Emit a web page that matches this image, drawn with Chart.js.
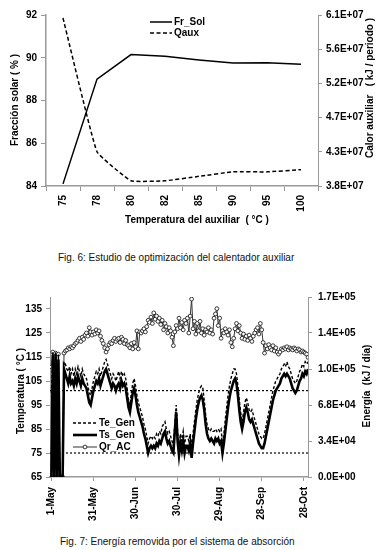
<!DOCTYPE html>
<html>
<head>
<meta charset="utf-8">
<script src="https://cdn.jsdelivr.net/npm/chart.js@4/dist/chart.umd.min.js"></script>
<style>
  body { margin: 0; background: #fff; width: 380px; height: 550px; position: relative; overflow: hidden; }
  .box { position: absolute; left: 0; width: 380px; }
  .cap { position: absolute; font: 10px Arial, "Liberation Sans", sans-serif; color: #111; line-height: 12px; white-space: nowrap; }
</style>
</head>
<body>
<div class="box" style="top:0;height:240px"><canvas id="fig6"></canvas></div>
<div class="cap" style="left:58px;top:252px">Fig. 6: Estudio de optimización del calentador auxiliar</div>
<div class="box" style="top:280px;height:245px"><canvas id="fig7"></canvas></div>
<div class="cap" style="left:60px;top:536px">Fig. 7: Energía removida por el sistema de absorción</div>
<script>
// --- Fig. 6 data ---
const auxTemps = ["75", "78", "80", "82", "85", "90", "95", "100"];
const frSol = [84.1, 89.0, 90.15, 90.07, 89.9, 89.75, 89.77, 89.7];
const qaux = [6.06e7, 4.26e7, 3.87e7, 3.87e7, 3.93e7, 3.99e7, 3.99e7, 4.02e7];
const fracTicks = [84, 86, 88, 90, 92];
const qauxTicks = [3.8e7, 4.26e7, 4.72e7, 5.18e7, 5.64e7, 6.1e7];
const qauxTickLabels = ["3.8E+07", "4.3E+07", "4.7E+07", "5.2E+07", "5.6E+07", "6.1E+07"];

// --- Fig. 7 data (one value per day, 1-May .. 31-Oct) ---
const teGen = [100,117,65,117,65,116,65,65,65,113,
112,110,109,111,108,110,107,110,108,111,
109,107,110,108,107,106,103,100,99,102,
105,107,109,108,110,107,109,111,113,114,
112,110,108,106,108,107,105,107,109,106,
109,107,108,106,102,97,95,100,104,106,
103,99,96,94,92,90,87,85,82,79,
81,82,81,82,81,83,82,84,83,86,
87,88,85,83,84,82,80,78,87,95,
84,78,83,80,84,79,82,82,80,83,
77,83,88,93,97,100,102,103,102,97,
91,87,85,84,85,84,84,85,84,85,
84,85,79,83,89,94,99,103,106,108,
110,110,108,103,97,92,88,92,96,98,
96,93,92,93,91,89,87,85,83,82,
81,81,83,86,89,92,95,98,101,103,
105,106,107,108,110,111,112,111,113,111,
110,108,106,105,104,105,107,109,110,112,
111,113,112,113];
const tsGen = [65,116,65,116,65,114,65,65,65,110,
108,106,104,107,104,105,103,106,104,107,
105,103,106,104,103,102,99,96,95,98,
101,103,105,104,106,103,105,107,109,110,
108,106,104,102,104,103,101,103,104,102,
105,103,104,102,98,94,92,96,100,102,
99,95,92,90,88,86,83,81,78,75,
77,78,77,78,77,79,78,80,79,81,
83,84,81,79,80,78,76,75,84,92,
80,74,79,76,80,75,78,78,76,79,
73,79,84,89,93,96,98,99,97,93,
87,83,81,80,81,80,79,81,80,81,
79,80,75,79,84,89,94,98,101,103,
105,106,104,99,93,88,85,88,92,94,
92,89,88,89,87,85,83,81,79,78,
77,77,79,82,85,88,91,94,97,99,
101,102,103,104,106,107,108,107,108,107,
106,104,102,101,100,101,103,105,106,108,
107,109,108,110];
const qrAC = [104000,118000,0,117000,0,116000,0,0,0,117000,
119000,120000,122000,121000,123000,122000,124000,126000,127000,129000,
131000,128000,132000,130000,134000,136000,133000,141000,137000,134000,
137000,135000,139000,136000,138000,133000,129000,126000,122000,118000,
121000,125000,127000,126000,129000,131000,128000,130000,131000,127000,
132000,130000,126000,129000,125000,124000,122000,126000,121000,127000,
123000,138000,121000,137000,136000,138000,140000,137000,142000,148000,
146000,151000,145000,155000,149000,152000,147000,150000,144000,148000,
139000,145000,142000,136000,141000,138000,132000,124000,137000,143000,
140000,150000,141000,146000,139000,148000,145000,150000,136000,152000,
168000,140000,147000,135000,145000,138000,147000,136000,140000,134000,
139000,137000,141000,136000,139000,135000,150000,154000,159000,143000,
150000,131000,138000,136000,140000,137000,134000,139000,127000,123000,
131000,140000,145000,138000,143000,136000,131000,135000,130000,133000,
129000,134000,131000,128000,133000,136000,139000,141000,135000,145000,
139000,127000,117000,124000,121000,125000,122000,120000,124000,119000,
122000,118000,116000,118000,121000,120000,122000,121000,123000,120000,
122000,121000,120000,122000,121000,119000,121000,120000,118000,119000,
118000,117000,116000,113000];
const refLines = [101, 75];
const tempTicks = [65, 75, 85, 95, 105, 115, 125, 135];
const energyTicks = [0, 34000, 68000, 102000, 136000, 170000];
const energyTickLabels = ["0.0E+00", "3.4E+04", "6.8E+04", "1.0E+05", "1.4E+05", "1.7E+05"];
const dateTicks = [0, 30, 60, 90, 120, 150, 180];
const dateLabels = ["1-May", "31-May", "30-Jun", "30-Jul", "29-Aug", "28-Sep", "28-Oct"];

const FONT = 'Arial, "Liberation Sans", sans-serif';
Chart.defaults.font.family = FONT;
Chart.defaults.font.size = 10;
Chart.defaults.font.weight = "bold";
Chart.defaults.color = "#000";
const AXIS = "#999";

// titles and in-plot legend drawn on the canvas
const overlay = {
  id: "overlay",
  afterDraw(chart, args, opts) {
    const ctx = chart.ctx;
    ctx.save();
    ctx.font = "bold 10px " + FONT;
    ctx.fillStyle = "#000";
    ctx.textBaseline = "middle";
    (opts.titles || []).forEach(t => {
      ctx.save();
      ctx.translate(t.x, t.y);
      ctx.rotate(t.rot || 0);
      ctx.textAlign = "center";
      ctx.fillText(t.text, 0, 0);
      ctx.restore();
    });
    const lg = opts.legend;
    if (lg) {
      ctx.textAlign = "left";
      chart.data.datasets.filter(d => d.label).forEach((ds, i) => {
        const y = lg.y + i * lg.row;
        ctx.beginPath();
        ctx.setLineDash(ds.borderDash || []);
        ctx.lineWidth = ds.borderWidth;
        ctx.strokeStyle = ds.borderColor;
        ctx.moveTo(lg.x, y);
        ctx.lineTo(lg.x + lg.len, y);
        ctx.stroke();
        ctx.setLineDash([]);
        if (ds.pointRadius) {
          ctx.beginPath();
          ctx.arc(lg.x + lg.len / 2, y, ds.pointRadius, 0, Math.PI * 2);
          ctx.fillStyle = ds.pointBackgroundColor;
          ctx.fill();
          ctx.lineWidth = ds.pointBorderWidth;
          ctx.strokeStyle = ds.pointBorderColor;
          ctx.stroke();
          ctx.fillStyle = "#000";
        }
        ctx.fillText(ds.label, lg.x + lg.len + 2, y + 0.5);
      });
    }
    ctx.restore();
  }
};

const fixed = (ticks) => s => { s.ticks = ticks.map(v => ({ value: v })); };

new Chart(document.getElementById("fig6"), {
  type: "line",
  data: {
    labels: auxTemps,
    datasets: [
      { label: "Fr_Sol", data: frSol, yAxisID: "y", borderColor: "#000", borderWidth: 1.5, pointRadius: 0, tension: 0 },
      { label: "Qaux", data: qaux, yAxisID: "y1", borderColor: "#000", borderWidth: 1.5, borderDash: [4, 2.5], pointRadius: 0, tension: 0.1 }
    ]
  },
  options: {
    responsive: true,
    maintainAspectRatio: false,
    animation: false,
    layout: { padding: { top: 15, left: 0, right: 0, bottom: 0 } },
    plugins: {
      legend: { display: false },
      tooltip: { enabled: false },
      overlay: {
        titles: [
          { text: "Fracción solar ( % )", x: 15, y: 100, rot: -Math.PI / 2 },
          { text: "Calor auxiliar   ( kJ / periodo )", x: 370, y: 88, rot: -Math.PI / 2 },
          { text: "Temperatura del auxiliar  ( °C )", x: 197, y: 220 }
        ],
        legend: { x: 150, y: 22, row: 11, len: 22 }
      }
    },
    scales: {
      x: {
        offset: true,
        grid: { display: true, offset: true, drawOnChartArea: false, tickLength: 5, color: AXIS },
        border: { color: AXIS, width: 1.5 },
        ticks: { minRotation: 90, maxRotation: 90, autoSkip: false, padding: 4 },
        afterFit: s => { s.height = 54; }
      },
      y: {
        position: "left", min: 84, max: 92,
        afterBuildTicks: fixed(fracTicks),
        grid: { drawOnChartArea: false, tickLength: 5, color: AXIS },
        border: { color: AXIS, width: 1.5 },
        ticks: { padding: 4 },
        afterFit: s => { s.width = 46; }
      },
      y1: {
        position: "right", min: 3.8e7, max: 6.1e7,
        afterBuildTicks: fixed(qauxTicks),
        grid: { drawOnChartArea: false, tickLength: 4, color: AXIS },
        border: { color: AXIS, width: 1, dash: [2, 2] },
        ticks: { padding: 4, callback: (v, i) => qauxTickLabels[i] },
        afterFit: s => { s.width = 62; }
      }
    }
  },
  plugins: [overlay]
});

const xMin = -1, xMax = 183;
const pts = arr => arr.map((v, i) => ({ x: i, y: v }));

new Chart(document.getElementById("fig7"), {
  type: "line",
  data: {
    datasets: [
      { label: "Te_Gen", data: pts(teGen), yAxisID: "yT", borderColor: "#000", borderWidth: 1.4, borderDash: [3, 2], pointRadius: 0 },
      { label: "Ts_Gen", data: pts(tsGen), yAxisID: "yT", borderColor: "#000", borderWidth: 2.6, pointRadius: 0 },
      { label: "Qr_AC", data: pts(qrAC), yAxisID: "yE", borderColor: "#333", borderWidth: 1, pointRadius: 1.9,
        pointBackgroundColor: "#fff", pointBorderColor: "#222", pointBorderWidth: 0.9 },
      ...refLines.map(v => ({ data: [{ x: xMin, y: v }, { x: xMax, y: v }], yAxisID: "yT", borderColor: "#000",
        borderWidth: 1.2, borderDash: [2, 2], pointRadius: 0 }))
    ]
  },
  options: {
    responsive: true,
    maintainAspectRatio: false,
    animation: false,
    layout: { padding: { top: 17, left: 0, right: 0, bottom: 0 } },
    plugins: {
      legend: { display: false },
      tooltip: { enabled: false },
      overlay: {
        titles: [
          { text: "Temperatura ( °C )", x: 21, y: 111, rot: -Math.PI / 2 },
          { text: "Energía  (kJ / día)", x: 367, y: 106, rot: -Math.PI / 2 }
        ],
        legend: { x: 73, y: 143, row: 12, len: 24 }
      }
    },
    scales: {
      x: {
        type: "linear", min: xMin, max: xMax,
        afterBuildTicks: fixed(dateTicks),
        grid: { drawOnChartArea: false, tickLength: 4, color: AXIS },
        border: { color: AXIS, width: 1.5 },
        ticks: { minRotation: 90, maxRotation: 90, autoSkip: false, padding: 6, callback: (v, i) => dateLabels[i] },
        afterFit: s => { s.height = 48; }
      },
      yT: {
        position: "left", min: 65, max: 140,
        afterBuildTicks: fixed(tempTicks),
        grid: { drawOnChartArea: false, tickLength: 4, color: AXIS },
        border: { color: AXIS, width: 1, dash: [2, 2] },
        ticks: { padding: 4 },
        afterFit: s => { s.width = 50; }
      },
      yE: {
        position: "right", min: 0, max: 170000,
        afterBuildTicks: fixed(energyTicks),
        grid: { drawOnChartArea: false, tickLength: 4, color: AXIS },
        border: { color: AXIS, width: 1, dash: [2, 2] },
        ticks: { padding: 6, callback: (v, i) => energyTickLabels[i] },
        afterFit: s => { s.width = 72; }
      }
    }
  },
  plugins: [overlay]
});
</script>
</body>
</html>
